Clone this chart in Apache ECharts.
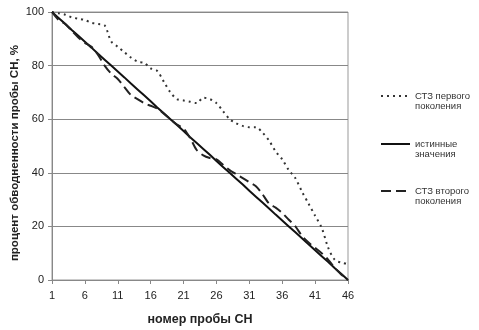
<!DOCTYPE html>
<html>
<head>
<meta charset="utf-8">
<script src="https://cdn.jsdelivr.net/npm/echarts@6/dist/echarts.min.js"></script>
<style>
  html, body { margin: 0; padding: 0; background: #fff; }
  #chart { width: 479px; height: 330px; }
</style>
</head>
<body>
<div id="chart"></div>
<script>
// номер пробы 1..46
const samples = []
for (let i = 1; i <= 46; i++) samples.push(String(i))

const firstGen = [100, 99.5, 99, 98, 97.5, 97, 96, 95.5, 95, 89,
  87, 85, 83, 81.5, 81, 79, 78, 74, 70, 67.5,
  67, 66.5, 66, 68, 67.5, 66, 63, 60, 58.5, 57.5,
  57, 57, 55, 52, 48, 45, 41, 38, 33, 28.5,
  24, 19.5, 12, 7.5, 6.5, 6]

const trueVals = [100, 97.8, 95.6, 93.3, 91.1, 88.9, 86.7, 84.4, 82.2, 80,
  77.8, 75.6, 73.3, 71.1, 68.9, 66.7, 64.4, 62.2, 60, 57.8,
  55.6, 53.3, 51.1, 48.9, 46.7, 44.4, 42.2, 40, 37.8, 35.6,
  33.3, 31.1, 28.9, 26.7, 24.4, 22.2, 20, 17.8, 15.6, 13.3,
  11.1, 8.9, 6.7, 4.4, 2.2, 0]

const secondGen = [100, 97, 95.5, 93, 90.5, 88.5, 87, 84, 80, 77,
  75, 72, 69, 67.5, 66, 65, 64, 62, 60, 58,
  56.5, 53, 48.5, 46.5, 45.5, 45, 43, 41, 39.5, 38,
  36.5, 35, 32, 28.5, 27, 25, 22.5, 20, 16.5, 14,
  12, 10, 7.5, 4.5, 2, 0]

const names = ['СТЗ первого\nпоколения', 'истинные\nзначения', 'СТЗ второго\nпоколения']

const chart = echarts.init(document.getElementById('chart'))

// blank first line keeps the icon level with the first line of text
function legendAt(name, top) {
  return {
    data: [name],
    left: 375,
    top: top,
    itemWidth: 29,
    itemHeight: 10,
    itemStyle: { opacity: 0 },
    formatter: n => ' \n' + n,
    textStyle: {
      fontFamily: 'Liberation Sans, Arial',
      fontSize: 9.5,
      color: '#333',
      lineHeight: 10
    }
  }
}

chart.setOption({
  animation: false,
  backgroundColor: '#fff',
  grid: {
    left: 52, right: 131, top: 12, bottom: 50,
    outerBoundsMode: 'none',
    show: true, borderColor: '#999', borderWidth: 1
  },
  legend: [legendAt(names[0], 76), legendAt(names[1], 124), legendAt(names[2], 171)],
  xAxis: {
    type: 'category',
    data: samples,
    boundaryGap: false,
    name: 'номер пробы СН',
    nameLocation: 'middle',
    nameGap: 33,
    nameMoveOverlap: false,
    nameTextStyle: { fontFamily: 'Liberation Sans, Arial', fontSize: 12.5, fontWeight: 'bold', color: '#222' },
    axisLine: { lineStyle: { color: '#888' } },
    axisTick: { alignWithLabel: true, interval: 4, length: 4, lineStyle: { color: '#888' } },
    axisLabel: { interval: 4, fontFamily: 'Liberation Sans, Arial', fontSize: 11, color: '#222', margin: 10 }
  },
  yAxis: {
    type: 'value',
    min: 0,
    max: 100,
    interval: 20,
    name: 'процент обводненности пробы СН, %',
    nameLocation: 'middle',
    nameGap: 31,
    nameMoveOverlap: false,
    nameTextStyle: {
      fontFamily: 'Liberation Sans, Arial', fontSize: 11.5, fontWeight: 'bold', color: '#222',
      padding: [0, 14, 0, 0]
    },
    axisLine: { show: true, lineStyle: { color: '#888' } },
    axisTick: { show: true, length: 4, lineStyle: { color: '#888' } },
    axisLabel: { fontFamily: 'Liberation Sans, Arial', fontSize: 11, color: '#222', margin: 8 },
    splitLine: { lineStyle: { color: '#888' } }
  },
  series: [
    {
      name: names[0], type: 'line', data: firstGen, symbol: 'none', smooth: 0.3,
      itemStyle: { color: '#333' },
      lineStyle: { color: '#333', width: 2, type: [2, 4] }
    },
    {
      name: names[1], type: 'line', data: trueVals, symbol: 'none',
      itemStyle: { color: '#111' },
      lineStyle: { color: '#111', width: 2 }
    },
    {
      name: names[2], type: 'line', data: secondGen, symbol: 'none', smooth: 0.3,
      itemStyle: { color: '#222' },
      lineStyle: { color: '#222', width: 2, type: [10, 5] }
    }
  ]
})
</script>
</body>
</html>
